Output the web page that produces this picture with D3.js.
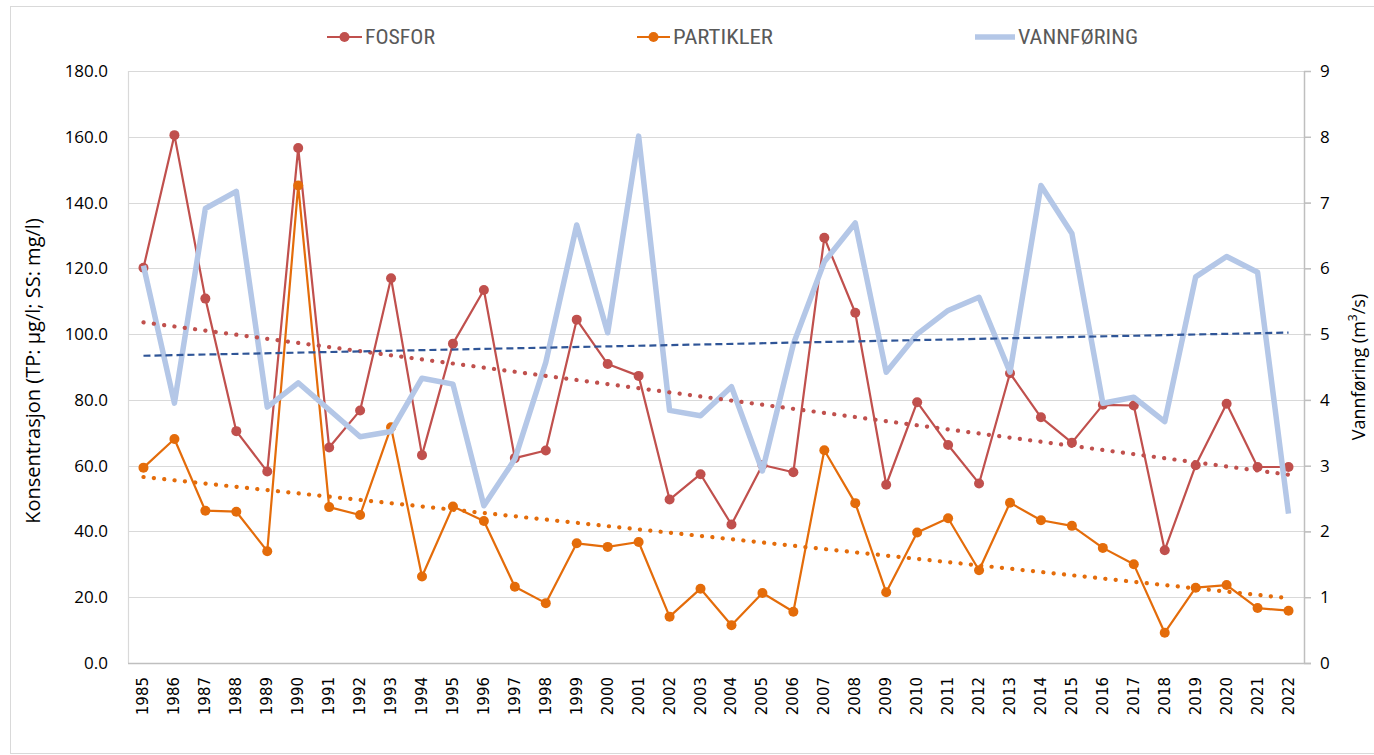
<!DOCTYPE html>
<html><head><meta charset="utf-8">
<script src="https://cdn.jsdelivr.net/npm/d3@7"></script>
<style>
html,body{margin:0;padding:0;background:#fff;}
svg{display:block;}
</style></head>
<body>
<svg id="chart" width="1374" height="755"></svg>
<script>
const years = [1985,1986,1987,1988,1989,1990,1991,1992,1993,1994,1995,1996,1997,1998,1999,2000,2001,2002,2003,2004,2005,2006,2007,2008,2009,2010,2011,2012,2013,2014,2015,2016,2017,2018,2019,2020,2021,2022];
const fosfor = [120.2,160.5,110.8,70.5,58.2,156.6,65.5,76.8,117.0,63.2,97.1,113.4,62.3,64.6,104.4,90.9,87.3,49.7,57.4,42.1,60.2,58.0,129.3,106.5,54.2,79.3,66.3,54.6,88.1,74.7,67.0,78.5,78.3,34.3,60.1,78.8,59.6,59.6];
const partikler = [59.4,68.1,46.3,46.0,34.0,145.2,47.4,45.0,71.7,26.3,47.6,43.2,23.2,18.2,36.4,35.3,36.8,14.1,22.6,11.5,21.3,15.6,64.7,48.6,21.5,39.7,44.0,28.2,48.7,43.4,41.7,35.0,30.0,9.2,22.9,23.7,16.7,15.9];
const vannforing = [6.04,3.95,6.91,7.17,3.89,4.26,3.85,3.44,3.52,4.33,4.24,2.39,3.10,4.57,6.66,5.02,8.01,3.84,3.76,4.20,2.92,4.85,6.10,6.69,4.42,5.00,5.36,5.56,4.42,7.26,6.53,3.95,4.04,3.67,5.87,6.18,5.94,2.27];
const leftTicks = [0,20,40,60,80,100,120,140,160,180];
const rightTicks = [0,1,2,3,4,5,6,7,8,9];
const seriesNames = ["FOSFOR","PARTIKLER","VANNFØRING"];
const leftTitle = "Konsentrasjon (TP: µg/l; SS: mg/l)";

const C_FOS = "#C0504D", C_PAR = "#E46C0A", C_VAN = "#B4C7E7", C_TREND_V = "#2F5597";
const X0 = 128, X1 = 1304, YT = 71, YB = 663;

const svg = d3.select("#chart");
const x = d3.scaleBand().domain(years).range([X0, X1]).padding(0);
const cx = d => x(d) + x.bandwidth()/2;
const yL = d3.scaleLinear().domain([0,180]).range([YB, YT]);
const yR = d3.scaleLinear().domain([0,9]).range([YB, YT]);

// outer border
svg.append("rect").attr("x",10.5).attr("y",6.5).attr("width",1380).attr("height",747)
  .attr("fill","none").attr("stroke","#d9d9d9").attr("stroke-width",1);

// gridlines
svg.append("g").selectAll("line").data(leftTicks.filter(t=>t>0)).join("line")
  .attr("x1",X0).attr("x2",X1+7).attr("y1",d=>Math.round(yL(d))+0.5).attr("y2",d=>Math.round(yL(d))+0.5)
  .attr("stroke","#d9d9d9").attr("stroke-width",1.2);

// left axis line
svg.append("line").attr("x1",X0+0.5).attr("x2",X0+0.5).attr("y1",YT).attr("y2",YB)
  .attr("stroke","#d9d9d9").attr("stroke-width",1.2);
// right axis with outward ticks
const rAxis = d3.axisRight(yR).tickValues(rightTicks).tickSize(7).tickPadding(9).tickFormat(d3.format("d"));
const gR = svg.append("g").attr("transform",`translate(${X1},0)`).call(rAxis);
gR.select(".domain").attr("stroke","#bfbfbf").attr("stroke-width",1.5).attr("d",`M0.5,${YT}V${YB}`);
gR.selectAll(".tick line").attr("stroke","#bfbfbf").attr("stroke-width",1.5);
gR.selectAll(".tick text").attr("font-family","Open Sans, sans-serif").attr("font-size",17).attr("fill","#000");
// bottom axis line
svg.append("line").attr("x1",X0).attr("x2",X1+7).attr("y1",YB+0.5).attr("y2",YB+0.5)
  .attr("stroke","#bfbfbf").attr("stroke-width",1.5);

// left axis labels
const lAxis = d3.axisLeft(yL).tickValues(leftTicks).tickSize(0).tickPadding(20).tickFormat(d3.format(".1f"));
const gL = svg.append("g").attr("transform",`translate(${X0},0)`).call(lAxis);
gL.select(".domain").remove();
gL.selectAll(".tick text").attr("font-family","Open Sans, sans-serif").attr("font-size",17).attr("fill","#000");

// bottom axis labels
const bAxis = d3.axisBottom(x).tickSize(0).tickFormat(d3.format("d"));
const gB = svg.append("g").attr("transform",`translate(0,${YB})`).call(bAxis);
gB.select(".domain").remove();
gB.selectAll(".tick text").attr("font-family","DejaVu Sans, sans-serif").attr("font-size",15).attr("fill","#000")
  .attr("text-anchor","end").attr("transform","translate(5,14) rotate(-90)").attr("dy","0").attr("y",0).attr("x",0);

// axis titles
svg.append("text").attr("transform",`translate(40,${(YT+YB)/2+4}) rotate(-90)`).attr("text-anchor","middle")
  .attr("font-family","Open Sans, sans-serif").attr("font-size",20).attr("fill","#000").text(leftTitle);
const rt = svg.append("text").attr("transform",`translate(1365,${(YT+YB)/2}) rotate(-90)`).attr("text-anchor","middle")
  .attr("font-family","Open Sans, sans-serif").attr("font-size",18).attr("fill","#000");
rt.append("tspan").text("Vannføring (m");
rt.append("tspan").attr("baseline-shift","super").attr("font-size",12).text("3");
rt.append("tspan").text("/s)");

// lines
const lineL = d3.line().x((d,i)=>cx(years[i])).y(d=>yL(d));
const lineR = d3.line().x((d,i)=>cx(years[i])).y(d=>yR(d));

function drawSeries(vals, color){
  svg.append("path").datum(vals).attr("d",lineL).attr("fill","none").attr("stroke",color).attr("stroke-width",2.2).attr("stroke-linejoin","round");
  svg.append("g").selectAll("circle").data(vals).join("circle")
    .attr("cx",(d,i)=>cx(years[i])).attr("cy",d=>yL(d)).attr("r",5).attr("fill",color);
}
drawSeries(fosfor, C_FOS);
drawSeries(partikler, C_PAR);
svg.append("path").datum(vannforing).attr("d",lineR).attr("fill","none").attr("stroke",C_VAN).attr("stroke-width",5.5).attr("stroke-linejoin","round");

// trend lines (least squares)
function trend(vals){
  const n = vals.length, xs = vals.map((d,i)=>i);
  const mx = d3.mean(xs), my = d3.mean(vals);
  const b = d3.sum(xs.map((xi,i)=>(xi-mx)*(vals[i]-my))) / d3.sum(xs.map(xi=>(xi-mx)**2));
  const a = my - b*mx;
  return [a, a + b*(n-1)];
}
function drawTrend(vals, scale, color, dash, width, cap){
  const t = trend(vals);
  svg.append("line").attr("x1",cx(years[0])).attr("x2",cx(years[years.length-1]))
    .attr("y1",scale(t[0])).attr("y2",scale(t[1]))
    .attr("stroke",color).attr("stroke-width",width).attr("stroke-dasharray",dash).attr("stroke-linecap",cap);
}
drawTrend(fosfor, yL, C_FOS, "0.1 10.3", 4.2, "round");
drawTrend(partikler, yL, C_PAR, "0.1 10.3", 4.2, "round");
drawTrend(vannforing, yR, C_TREND_V, "7 4", 2.2, "butt");

// legend
const legend = [
  {name:seriesNames[0], color:C_FOS, x1:327, x2:362, marker:true, w:70},
  {name:seriesNames[1], color:C_PAR, x1:637, x2:670, marker:true, w:100},
  {name:seriesNames[2], color:C_VAN, x1:975, x2:1015, marker:false, w:120}
];
const LY = 37;
legend.forEach(l=>{
  svg.append("line").attr("x1",l.x1).attr("x2",l.x2).attr("y1",LY).attr("y2",LY)
    .attr("stroke",l.color).attr("stroke-width",l.marker?2.2:5.5);
  if(l.marker) svg.append("circle").attr("cx",(l.x1+l.x2)/2).attr("cy",LY).attr("r",5).attr("fill",l.color);
  svg.append("text").attr("x",l.x2+3).attr("y",LY+7).attr("font-family","Liberation Sans Narrow, Roboto Condensed, Arial Narrow, sans-serif")
    .attr("font-size",20).attr("fill","#595959").attr("textLength",l.w).attr("lengthAdjust","spacingAndGlyphs").text(l.name);
});
</script>
</body></html>
